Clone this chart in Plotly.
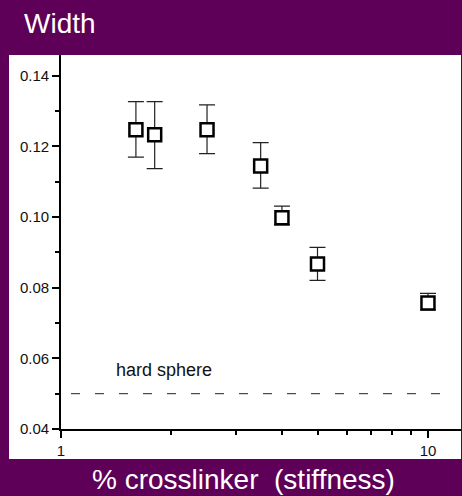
import plotly.graph_objects as go

# ---- data ----
crosslinker = [1.6, 1.8, 2.5, 3.5, 4.0, 5.0, 10.0]
width = [0.1247, 0.1233, 0.1247, 0.1145, 0.0998, 0.0867, 0.0757]
err_plus = [0.0080, 0.0094, 0.0071, 0.0066, 0.0033, 0.0047, 0.0027]
err_minus = [0.0077, 0.0096, 0.0067, 0.0063, 0.0020, 0.0046, 0.0020]
hard_sphere = 0.05
y_ticks = [0.04, 0.06, 0.08, 0.10, 0.12, 0.14]
y_ticktext = ["0.04", "0.06", "0.08", "0.10", "0.12", "0.14"]
y_minor = [0.05, 0.07, 0.09, 0.11, 0.13]
x_ticks = [1, 10]
x_ticktext = ["1", "10"]
x_minor = [2, 3, 4, 5, 6, 7, 8, 9]

PURPLE = "#5e0057"
FONT = "Liberation Sans, Arial, sans-serif"

W, H = 462, 496
L, R, T, B = 61, 1, 55, 67
pw, ph = W - L - R, H - T - B

def px_x(p):
    return (p - L) / pw

def px_y(p):
    return (H - B - p) / ph

fig = go.Figure()
fig.add_trace(go.Scatter(
    x=crosslinker, y=width, mode="markers",
    marker=dict(symbol="square", size=13, color="white",
                line=dict(color="black", width=2.5)),
    error_y=dict(type="data", array=err_plus, arrayminus=err_minus,
                 symmetric=False, color="#222222", thickness=1.2, width=8),
    showlegend=False, hoverinfo="skip",
))

shapes = [
    dict(type="rect", xref="paper", yref="paper",
         x0=px_x(9), x1=px_x(461), y0=px_y(459), y1=px_y(55),
         fillcolor="white", line=dict(width=0), layer="below"),
    dict(type="line", xref="paper", yref="y",
         x0=px_x(71), x1=px_x(447), y0=hard_sphere, y1=hard_sphere,
         line=dict(color="#222222", width=1, dash="9px,15px")),
]

annotations = [
    dict(text="Width", xref="paper", yref="paper", x=px_x(22), y=px_y(23),
         xanchor="left", yanchor="middle", showarrow=False,
         font=dict(family=FONT, size=28, color="white")),
    dict(text="% crosslinker&nbsp;&nbsp;(stiffness)", xref="paper", yref="paper",
         x=px_x(243), y=px_y(480), xanchor="center", yanchor="middle",
         showarrow=False, font=dict(family=FONT, size=28, color="white")),
    dict(text="hard sphere", xref="paper", yref="paper",
         x=px_x(164), y=px_y(369.5), xanchor="center", yanchor="middle",
         showarrow=False, font=dict(family=FONT, size=18, color="#111111")),
]

fig.update_layout(
    width=W, height=H,
    margin=dict(l=L, r=R, t=T, b=B, pad=0),
    paper_bgcolor=PURPLE, plot_bgcolor="white",
    shapes=shapes, annotations=annotations,
    font=dict(family=FONT, color="#111111"),
)

fig.update_xaxes(
    type="log", range=[0, 1.090],
    tickmode="array", tickvals=x_ticks, ticktext=x_ticktext,
    ticks="outside", ticklen=7, tickwidth=1.5, tickcolor="black",
    minor=dict(tickmode="array", tickvals=x_minor, ticks="outside",
               ticklen=4, tickwidth=1.5, tickcolor="black", showgrid=False),
    showline=True, linecolor="black", linewidth=1.8,
    showgrid=False, zeroline=False,
    tickfont=dict(family=FONT, size=15, color="#111111"),
)
fig.update_yaxes(
    range=[0.04, 0.1459],
    tickmode="array", tickvals=y_ticks, ticktext=y_ticktext,
    ticks="outside", ticklen=7, tickwidth=1.5, tickcolor="black",
    minor=dict(tickmode="array", tickvals=y_minor, ticks="outside",
               ticklen=4, tickwidth=1.5, tickcolor="black", showgrid=False),
    showline=True, linecolor="black", linewidth=1.8,
    showgrid=False, zeroline=False,
    tickfont=dict(family=FONT, size=15, color="#111111"),
)

fig.write_html(
    "out.html",
    config={"displayModeBar": False},
    post_script="document.body.style.margin='0';document.body.style.overflow='hidden';",
)
